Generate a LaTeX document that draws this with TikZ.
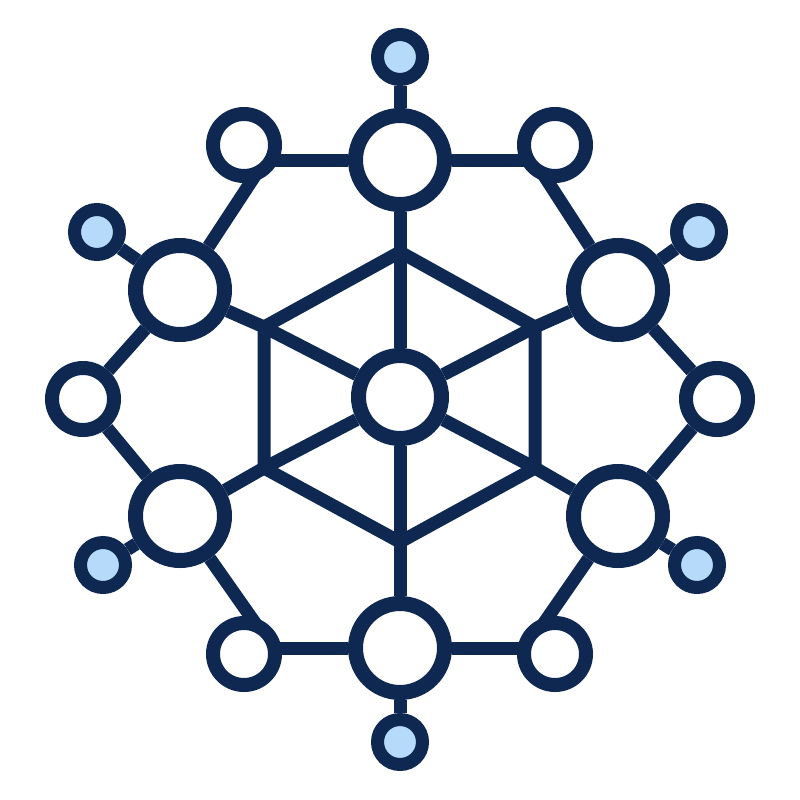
\documentclass[tikz,border=0pt]{standalone}
\usetikzlibrary{calc,backgrounds}
\definecolor{navy}{RGB}{14,40,82}
\definecolor{lblue}{RGB}{182,218,250}
\begin{document}
\begin{tikzpicture}[x=1pt,y=-1pt,
  edge/.style={draw=navy,line width=13pt},
  bignode/.style={circle,draw=navy,fill=white,line width=15pt,minimum size=89pt,inner sep=0pt},
  smallnode/.style={circle,draw=navy,fill=white,line width=14pt,minimum size=62pt,inner sep=0pt},
  hubnode/.style={circle,draw=navy,fill=white,line width=15pt,minimum size=83pt,inner sep=0pt},
  leafnode/.style={circle,draw=navy,fill=lblue,line width=13pt,minimum size=45pt,inner sep=0pt}]
\useasboundingbox (0,0) rectangle (800,800);
\node[hubnode] (c) at (400,397) {};
\node[bignode] (t) at (400,160) {};
\node[bignode] (b) at (400,648) {};
\node[bignode] (ul) at (180,290) {};
\node[bignode] (ur) at (618,290) {};
\node[bignode] (ll) at (180,516) {};
\node[bignode] (lr) at (618,516) {};
\node[smallnode] (tl) at (244,145) {};
\node[smallnode] (tr) at (555,145) {};
\node[smallnode] (l) at (83,399) {};
\node[smallnode] (r) at (717,399) {};
\node[smallnode] (bl) at (244,654) {};
\node[smallnode] (br) at (555,654) {};
\node[leafnode] (lt) at (400,57) {};
\node[leafnode] (lb) at (400,742) {};
\node[leafnode] (lul) at (97,232) {};
\node[leafnode] (lur) at (699,232) {};
\node[leafnode] (lll) at (103,565) {};
\node[leafnode] (llr) at (697,565) {};
\coordinate (h1) at (400,252);
\coordinate (h2) at (535,327);
\coordinate (h3) at (535,468);
\coordinate (h4) at (400,542);
\coordinate (h5) at (264,468);
\coordinate (h6) at (264,327);
\begin{pgfonlayer}{background}
\draw[edge] (h1)--(h2)--(h3)--(h4)--(h5)--(h6)--cycle;
\foreach \h in {h1,h2,h3,h4,h5,h6} \draw[edge] (c) -- (\h);
\draw[edge] (t)--(h1);
\draw[edge] (ur)--(h2);
\draw[edge] (lr)--(h3);
\draw[edge] (b)--(h4);
\draw[edge] (ll)--(h5);
\draw[edge] (ul)--(h6);
\draw[edge] (t) -- (t -| tl);
\draw[edge] (t) -- (t -| tr);
\draw[edge] (b) -- (b -| bl);
\draw[edge] (b) -- (b -| br);
\draw[edge] (ul) -- ($(ul)!1.1!(tl.-80)$);
\draw[edge] (ur) -- ($(ur)!1.1!(tr.-100)$);
\draw[edge] (ll) -- ($(ll)!1.1!(bl.80)$);
\draw[edge] (lr) -- ($(lr)!1.1!(br.100)$);
\draw[edge] (ul) -- (l) -- (ll);
\draw[edge] (ur) -- (r) -- (lr);
\draw[edge] (t) -- (lt);
\draw[edge] (b) -- (lb);
\draw[edge] (ul) -- (lul);
\draw[edge] (ur) -- (lur);
\draw[edge] (ll) -- (lll);
\draw[edge] (lr) -- (llr);
\end{pgfonlayer}
\end{tikzpicture}
\end{document}
